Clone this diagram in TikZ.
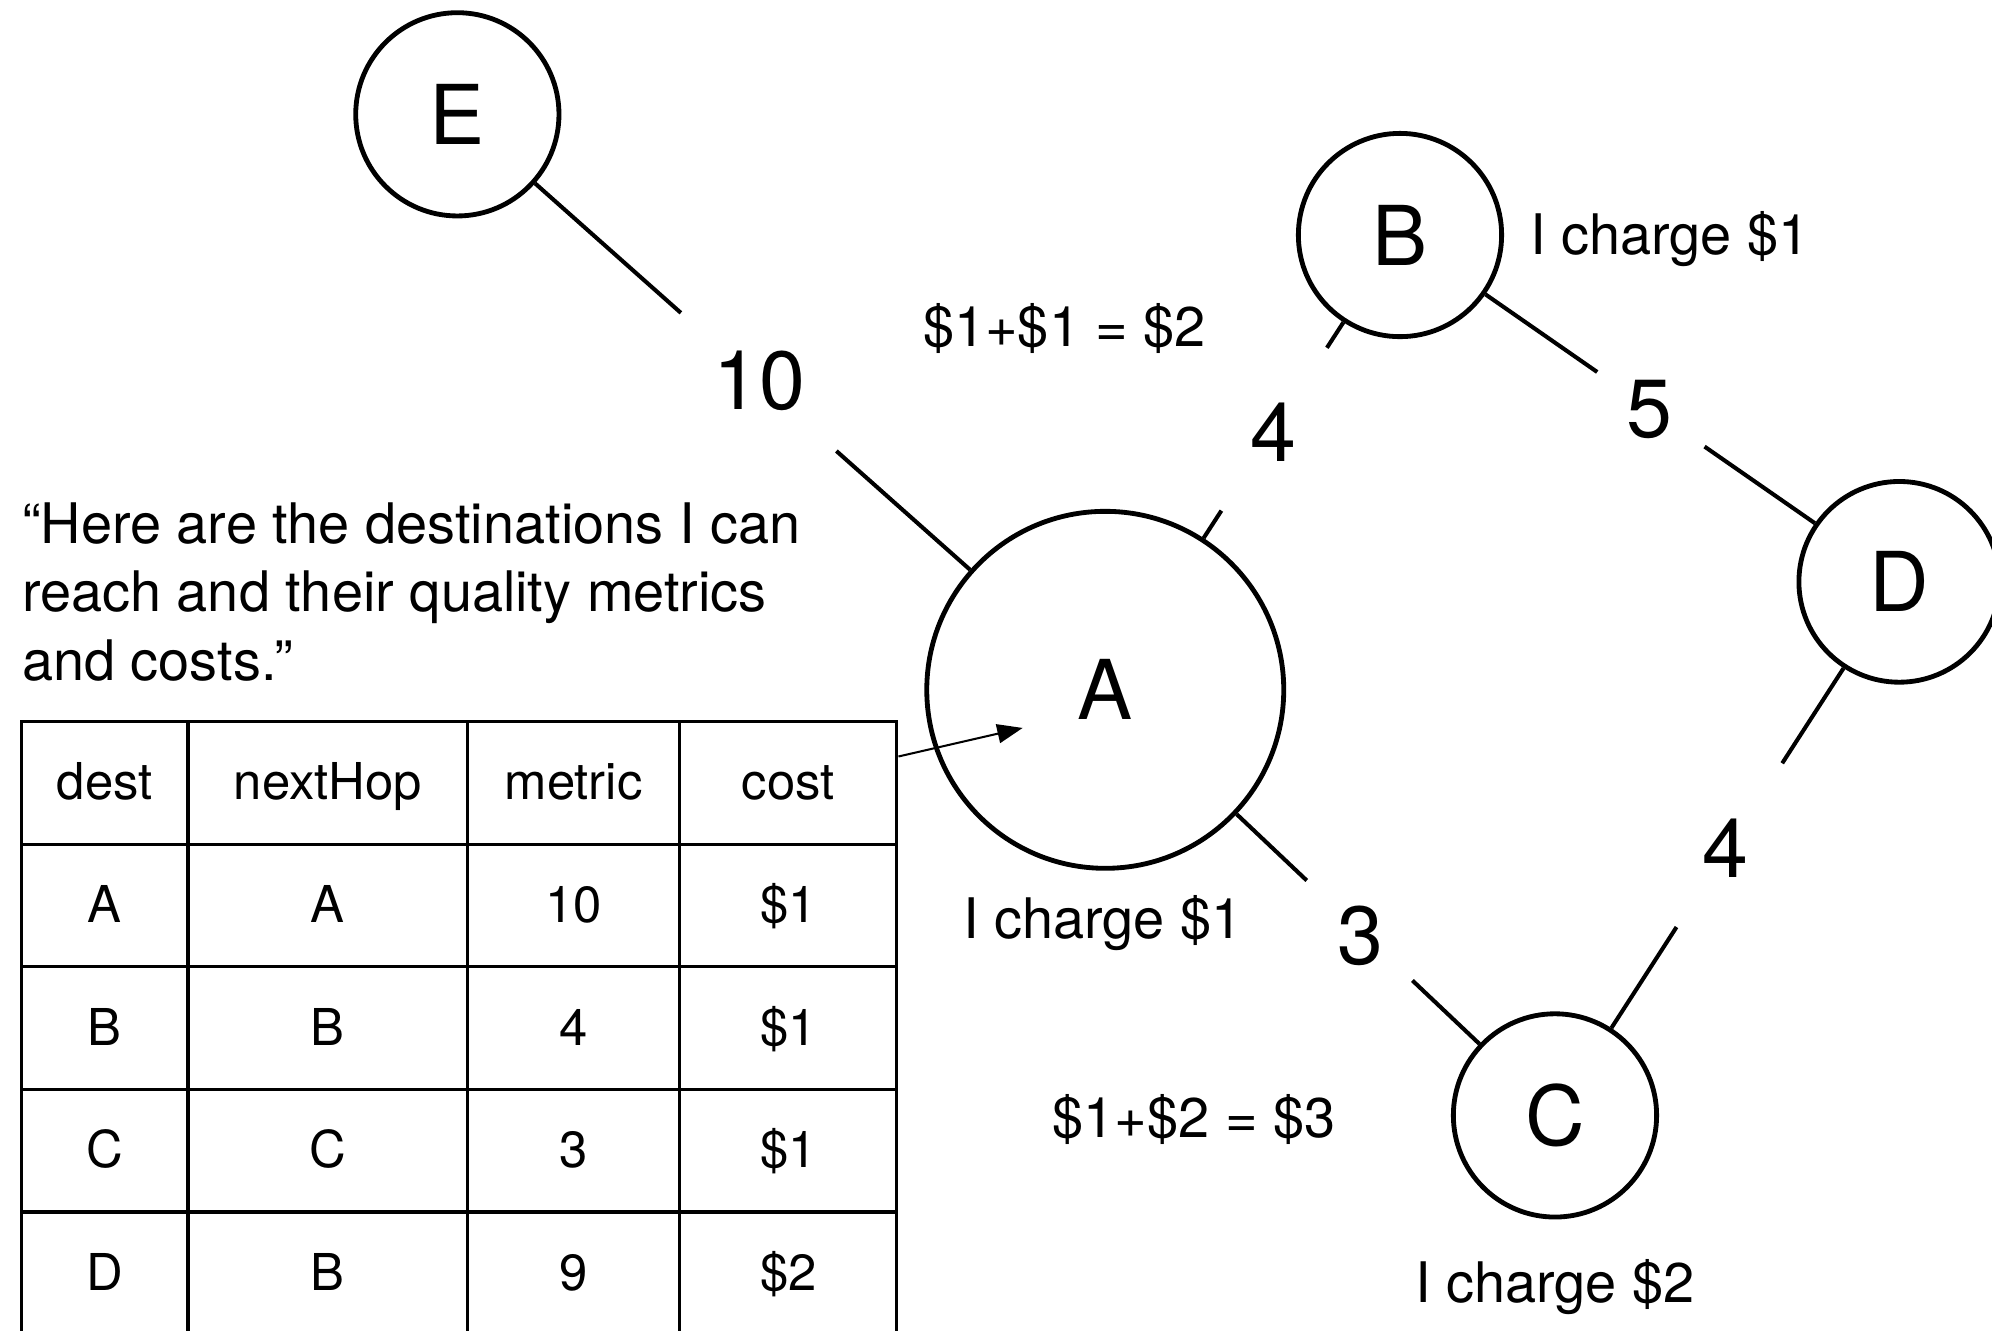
\documentclass[tikz,border=0pt]{standalone}
\usepackage{fontspec}
\setmainfont{TeX Gyre Heros}
\usetikzlibrary{calc,arrows.meta}
\begin{document}
\begin{tikzpicture}[x=0.5pt,y=-0.5pt,
  vert/.style={circle,draw,line width=1.9pt,inner sep=0pt,font=\fontsize{32.5}{36}\selectfont},
  edge/.style={line width=1.6pt},
  elabel/.style={inner sep=0pt,font=\fontsize{32.5}{36}\selectfont},
  note/.style={inner sep=0pt,font=\fontsize{22}{27}\selectfont},
  cell/.style={draw,line width=1.2pt,minimum height=48.25pt,inner sep=0pt,text height=18.4pt,text depth=5pt,font=\fontsize{20}{24}\selectfont},
  cA/.style={cell,minimum width=65.5pt},
  cB/.style={cell,minimum width=110pt},
  cC/.style={cell,minimum width=83.5pt},
  cD/.style={cell,minimum width=85.5pt},
]
\useasboundingbox (0,0) rectangle (1568,1047);

% vertices
\node[vert,minimum size=80pt] (E) at (360,90) {E};
\node[vert,minimum size=80pt] (B) at (1102,185) {B};
\node[vert,minimum size=79pt] (D) at (1495,458) {D};
\node[vert,minimum size=140.5pt] (A) at (870,543) {A};
\node[vert,minimum size=80pt] (C) at (1224,878) {C};

% edge gap ends
\coordinate (ea1) at ($(E)!0.345!(A)$);
\coordinate (ea2) at ($(E)!0.585!(A)$);
\coordinate (ab1) at ($(A)!0.394!(B)$);
\coordinate (ab2) at ($(A)!0.752!(B)$);
\coordinate (bd1) at ($(B)!0.395!(D)$);
\coordinate (bd2) at ($(B)!0.61!(D)$);
\coordinate (dc1) at ($(D)!0.34!(C)$);
\coordinate (dc2) at ($(D)!0.647!(C)$);
\coordinate (ac1) at ($(A)!0.448!(C)$);
\coordinate (ac2) at ($(A)!0.683!(C)$);

\draw[edge] (E) -- (ea1);
\draw[edge] (ea2) -- (A);
\draw[edge] (A) -- (ab1);
\draw[edge] (ab2) -- (B);
\draw[edge] (B) -- (bd1);
\draw[edge] (bd2) -- (D);
\draw[edge] (D) -- (dc1);
\draw[edge] (dc2) -- (C);
\draw[edge] (A) -- (ac1);
\draw[edge] (ac2) -- (C);

% edge weights
\node[elabel] (wEA) at (598,300) {10};
\node[elabel] (wAB) at (1002,340) {4};
\node[elabel] (wBD) at (1298,322) {5};
\node[elabel] (wDC) at (1358,668) {4};
\node[elabel] (wAC) at (1071,737) {3};

% notes
\node[note,anchor=base west] (chB) at (1204,200) {I charge \$1};
\node[note,anchor=base] (chA) at (868,739) {I charge \$1};
\node[note,anchor=base] (chC) at (1224,1025) {I charge \$2};
\node[note,anchor=base] (sumB) at (838,273) {\$1+\$1 = \$2};
\node[note,anchor=base] (sumC) at (940,895) {\$1+\$2 = \$3};
\node[note,anchor=north west,align=left] (quote) at (17,395)
  {“Here are the destinations I can\\reach and their quality metrics\\and costs.”};

% table
\node[cA] (c11) at (82.5,616.25) {dest};
\node[cB] (c12) at (258,616.25) {nextHop};
\node[cC] (c13) at (451.5,616.25) {metric};
\node[cD] (c14) at (620.5,616.25) {cost};
\node[cA] (c21) at (82.5,712.75) {A};
\node[cB] (c22) at (258,712.75) {A};
\node[cC] (c23) at (451.5,712.75) {10};
\node[cD] (c24) at (620.5,712.75) {\$1};
\node[cA] (c31) at (82.5,809.25) {B};
\node[cB] (c32) at (258,809.25) {B};
\node[cC] (c33) at (451.5,809.25) {4};
\node[cD] (c34) at (620.5,809.25) {\$1};
\node[cA] (c41) at (82.5,905.75) {C};
\node[cB] (c42) at (258,905.75) {C};
\node[cC] (c43) at (451.5,905.75) {3};
\node[cD] (c44) at (620.5,905.75) {\$1};
\node[cA] (c51) at (82.5,1002.25) {D};
\node[cB] (c52) at (258,1002.25) {B};
\node[cC] (c53) at (451.5,1002.25) {9};
\node[cD] (c54) at (620.5,1002.25) {\$2};

% arrow from table to A
\coordinate (tip) at (805,573);
\draw[line width=0.8pt,-{Triangle[length=10pt,width=7.5pt]}]
  ($(c14.north east)!0.29!(c14.south east)$) -- (tip);
\end{tikzpicture}
\end{document}
